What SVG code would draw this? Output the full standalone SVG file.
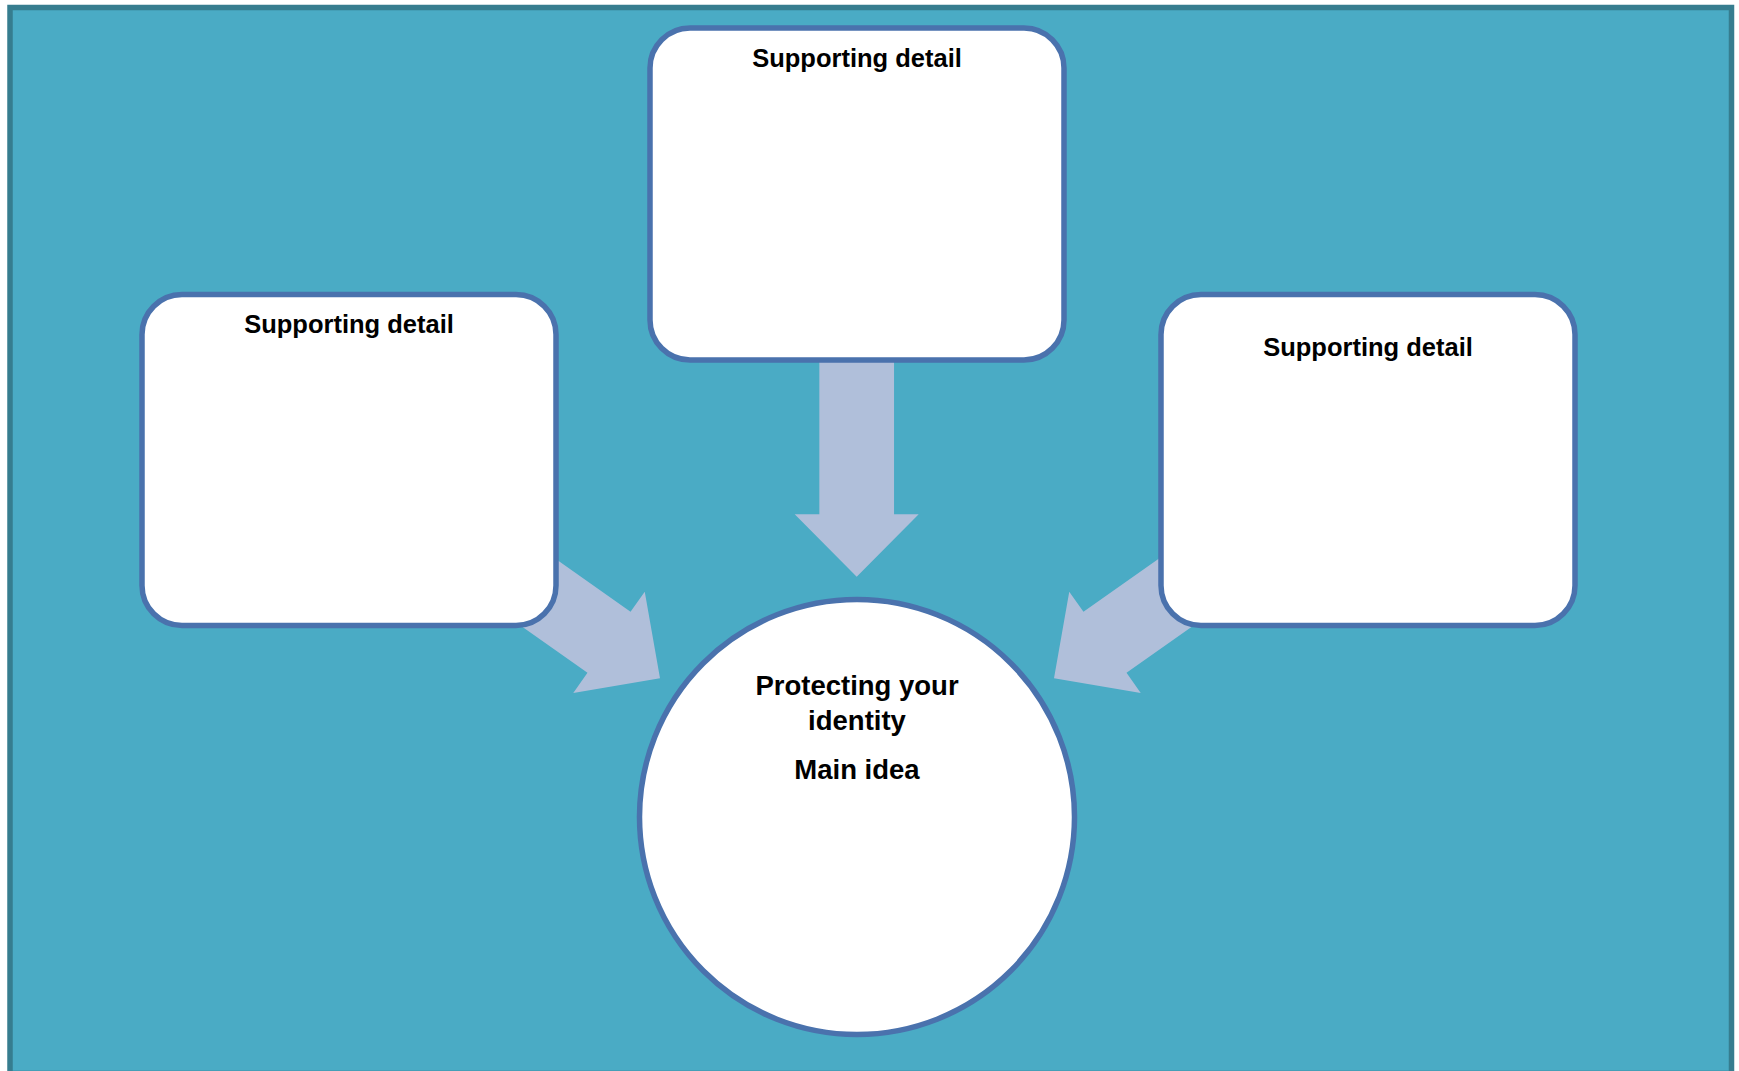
<svg xmlns="http://www.w3.org/2000/svg" width="1739" height="1071" viewBox="0 0 1739 1071">
  <style>
    .panel { fill: #4aabc5; stroke: #367d8f; stroke-width: 5.5; }
    .box { fill: #ffffff; stroke: #4a72ad; stroke-width: 5.5; }
    .arrow { fill: #b0bfda; stroke: none; }
    .label { font-family: "Liberation Sans", Arial, sans-serif; font-weight: bold; fill: #000000; text-anchor: middle; }
    .small { font-size: 25.5px; }
    .big { font-size: 27.5px; }
  </style>
  <defs>
    <!-- block arrow pointing along +x, tip at the origin -->
    <polygon id="blockArrow" points="0,0 -62.4,-62 -62.4,-37.35 -217,-37.35 -217,37.35 -62.4,37.35 -62.4,62"/>
  </defs>

  <rect width="1739" height="1071" fill="#ffffff"/>
  <rect class="panel" x="10" y="7.5" width="1721.5" height="1066"/>

  <g id="connectors">
    <use href="#blockArrow" class="arrow" transform="translate(856.7,576.7) rotate(90)"/>
    <use href="#blockArrow" class="arrow" transform="translate(660,678.3) rotate(35.2)"/>
    <use href="#blockArrow" class="arrow" transform="translate(1054,678.3) rotate(144.8)"/>
  </g>

  <g id="detail-top">
    <rect class="box" x="650" y="28" width="414" height="332" rx="40" ry="40"/>
    <text class="label small" x="857" y="66.5">Supporting detail</text>
  </g>

  <g id="detail-left">
    <rect class="box" x="142" y="294.5" width="414" height="331" rx="40" ry="40"/>
    <text class="label small" x="349" y="333">Supporting detail</text>
  </g>

  <g id="detail-right">
    <rect class="box" x="1161" y="294.5" width="414" height="331" rx="40" ry="40"/>
    <text class="label small" x="1368" y="355.5">Supporting detail</text>
  </g>

  <g id="main-idea">
    <circle class="box" cx="857" cy="817" r="217.5"/>
    <text class="label big" x="857" y="695">Protecting your</text>
    <text class="label big" x="857" y="729.5">identity</text>
    <text class="label big" x="857" y="778.5">Main idea</text>
  </g>
</svg>
